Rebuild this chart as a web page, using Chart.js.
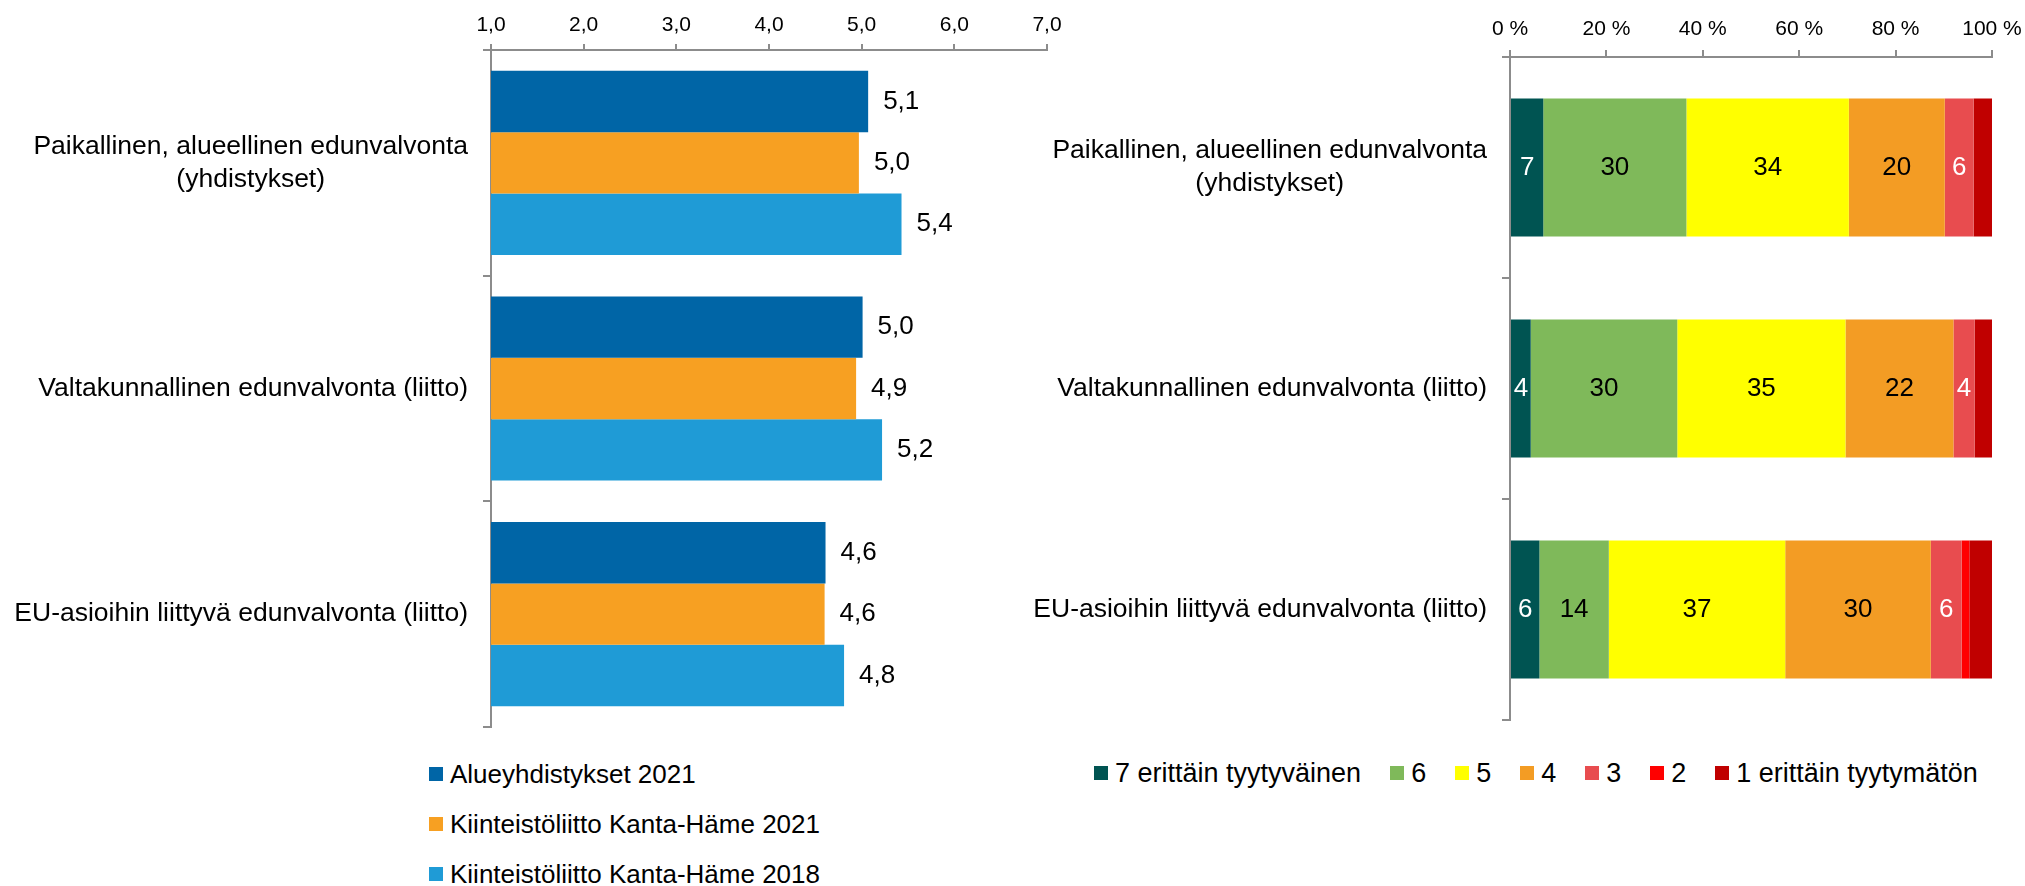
<!DOCTYPE html>
<html>
<head>
<meta charset="utf-8">
<script src="https://cdn.jsdelivr.net/npm/chart.js@4/dist/chart.umd.min.js"></script>
<style>
body{margin:0;background:#fff;width:2025px;height:886px;position:relative;overflow:hidden;font-family:Arial,"Liberation Sans",sans-serif;}
#vasen{position:absolute;left:0;top:0;}
#oikea{position:absolute;left:1030px;top:0;}
.selite{position:absolute;font-size:26px;color:#000;}
#seliteVasen{left:429px;top:749px;}
#seliteOikea{left:1094px;top:748px;display:flex;font-size:27px;}
.rivi{height:50px;display:flex;align-items:center;white-space:nowrap;}
#seliteOikea .rivi{margin-right:29px;}
.ruutu{width:14px;height:14px;margin-right:7px;}
</style>
</head>
<body>
<canvas id="vasen" width="1070" height="740"></canvas>
<canvas id="oikea" width="1002" height="740"></canvas>
<div id="seliteVasen" class="selite"></div>
<div id="seliteOikea" class="selite"></div>
<script>
// kategoriat (rivitettynä)
const kategoriat = [
  ['Paikallinen, alueellinen edunvalvonta', '(yhdistykset)'],
  ['Valtakunnallinen edunvalvonta (liitto)'],
  ['EU-asioihin liittyvä edunvalvonta (liitto)']
];

// vasen kuva: keskiarvot
const sarjatVasen = ['Alueyhdistykset 2021', 'Kiinteistöliitto Kanta-Häme 2021', 'Kiinteistöliitto Kanta-Häme 2018'];
const alue2021 = [5.07, 5.01, 4.61];
const kh2021 = [4.97, 4.94, 4.60];
const kh2018 = [5.43, 5.22, 4.81];
const tickitVasen = ['1,0', '2,0', '3,0', '4,0', '5,0', '6,0', '7,0'];

// oikea kuva: jakaumat %
const sarjatOikea = ['7 erittäin tyytyväinen', '6', '5', '4', '3', '2', '1 erittäin tyytymätön'];
const s7 = [6.9, 4.3, 6.1];
const s6 = [29.7, 30.4, 14.4];
const s5 = [33.7, 34.9, 36.6];
const s4 = [19.9, 22.4, 30.2];
const s3 = [6.0, 4.4, 6.4];
const s2 = [0, 0, 1.6];
const s1 = [3.8, 3.6, 4.7];
const tickitOikea = ['0 %', '20 %', '40 %', '60 %', '80 %', '100 %'];

const fontti = 'Arial, "Liberation Sans", sans-serif';
const harmaa = '#8c8c8c';
Chart.defaults.font.family = fontti;
Chart.defaults.color = '#000';

// kategorianimet: rivit keskitetty, lohko oikealle tasattu
const kategoriaTekstit = {
  id: 'kategoriaTekstit',
  afterDraw(chart) {
    const y = chart.scales.y;
    const ctx = chart.ctx;
    ctx.save();
    ctx.font = '26.5px ' + fontti;
    ctx.fillStyle = '#000';
    ctx.textAlign = 'center';
    ctx.textBaseline = 'middle';
    const oikea = y.right - 23;
    chart.data.labels.forEach((rivit, i) => {
      const leveys = Math.max(...rivit.map(r => ctx.measureText(r).width));
      const keski = y.getPixelForTick(i);
      rivit.forEach((r, k) => {
        ctx.fillText(r, oikea - leveys / 2, keski + (k - (rivit.length - 1) / 2) * 33);
      });
    });
    ctx.restore();
  }
};

// arvojen tekstit palkkeihin
const arvoTekstit = {
  id: 'arvoTekstit',
  afterDatasetsDraw(chart, args, opts) {
    const ctx = chart.ctx;
    ctx.save();
    ctx.font = '26px ' + fontti;
    ctx.textBaseline = 'middle';
    chart.data.datasets.forEach((ds, i) => {
      chart.getDatasetMeta(i).data.forEach((bar, j) => {
        const v = ds.data[j];
        if (opts.tyyppi === 'perassa') {
          ctx.textAlign = 'left';
          ctx.fillStyle = '#000';
          ctx.fillText(v.toFixed(1).replace('.', ','), bar.x + 15, bar.y);
        } else {
          if (i > 4 || v < 3) return;
          ctx.textAlign = 'center';
          ctx.fillStyle = (i === 0 || i === 4) ? '#fff' : '#000';
          ctx.fillText(Math.round(v), (bar.x + bar.base) / 2, bar.y);
        }
      });
    });
    ctx.restore();
  }
};

function selite(chart, el) {
  chart.data.datasets.forEach(ds => {
    const rivi = document.createElement('div');
    rivi.className = 'rivi';
    rivi.innerHTML = `<span class="ruutu" style="background:${ds.backgroundColor}"></span><span>${ds.label}</span>`;
    el.appendChild(rivi);
  });
}

const vasen = new Chart(document.getElementById('vasen'), {
  type: 'bar',
  data: {
    labels: kategoriat,
    datasets: [
      { label: sarjatVasen[0], data: alue2021, backgroundColor: '#0065A6' },
      { label: sarjatVasen[1], data: kh2021, backgroundColor: '#F7A022' },
      { label: sarjatVasen[2], data: kh2018, backgroundColor: '#1F9BD6' }
    ]
  },
  options: {
    indexAxis: 'y',
    responsive: false,
    animation: false,
    layout: { padding: { right: 23, bottom: 13 } },
    datasets: { bar: { categoryPercentage: 0.816, barPercentage: 1, borderWidth: 0 } },
    plugins: { legend: { display: false }, tooltip: { enabled: false }, arvoTekstit: { tyyppi: 'perassa' } },
    scales: {
      x: {
        position: 'top', min: 1, max: 7,
        ticks: { stepSize: 1, font: { size: 21 }, padding: 6, callback: (v, i) => tickitVasen[i] },
        grid: { drawOnChartArea: false, color: harmaa, lineWidth: 2, tickLength: 6 },
        border: { color: harmaa, width: 2 },
        afterFit(s) { s.height = 50; }
      },
      y: {
        ticks: { display: false },
        grid: { drawOnChartArea: false, color: harmaa, lineWidth: 2, tickLength: 8, offset: true },
        border: { color: harmaa, width: 2 },
        afterFit(s) { s.width = 491; }
      }
    }
  },
  plugins: [kategoriaTekstit, arvoTekstit]
});

const varit = ['#005452', '#7FB95A', '#FFFF00', '#F39C24', '#E84C4F', '#FF0000', '#C00000'];
const oikeaData = [s7, s6, s5, s4, s3, s2, s1];

const oikea = new Chart(document.getElementById('oikea'), {
  type: 'bar',
  data: {
    labels: kategoriat,
    datasets: sarjatOikea.map((nimi, i) => ({ label: nimi, data: oikeaData[i], backgroundColor: varit[i] }))
  },
  options: {
    indexAxis: 'y',
    responsive: false,
    animation: false,
    layout: { padding: { right: 40, bottom: 20 } },
    datasets: { bar: { categoryPercentage: 0.625, barPercentage: 1, borderWidth: 0 } },
    plugins: { legend: { display: false }, tooltip: { enabled: false }, arvoTekstit: { tyyppi: 'sisalla' } },
    scales: {
      x: {
        position: 'top', stacked: true, min: 0, max: 100,
        ticks: { stepSize: 20, font: { size: 21 }, padding: 8, callback: (v, i) => tickitOikea[i] },
        grid: { drawOnChartArea: false, color: harmaa, lineWidth: 2, tickLength: 7 },
        border: { color: harmaa, width: 2 },
        afterFit(s) { s.height = 57; }
      },
      y: {
        stacked: true,
        ticks: { display: false },
        grid: { drawOnChartArea: false, color: harmaa, lineWidth: 2, tickLength: 8, offset: true },
        border: { color: harmaa, width: 2 },
        afterFit(s) { s.width = 480; }
      }
    }
  },
  plugins: [kategoriaTekstit, arvoTekstit]
});

selite(vasen, document.getElementById('seliteVasen'));
selite(oikea, document.getElementById('seliteOikea'));
</script>
</body>
</html>
